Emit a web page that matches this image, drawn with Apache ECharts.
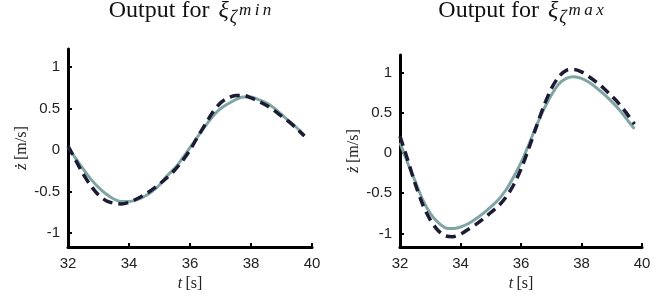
<!DOCTYPE html>
<html>
<head>
<meta charset="utf-8">
<script src="https://cdn.jsdelivr.net/npm/echarts@6/dist/echarts.min.js"></script>
<style>
  html, body { margin: 0; padding: 0; background: #fff; }
  #main { width: 661px; height: 297px; }
</style>
</head>
<body>
<div id="main"></div>
<script>
// time samples [s]
const tVals = [32, 32.25, 32.5, 32.75, 33, 33.25, 33.5, 33.75, 34, 34.25, 34.5, 34.75,
  35, 35.25, 35.5, 35.75, 36, 36.25, 36.5, 36.75, 37, 37.25, 37.5, 37.75,
  38, 38.25, 38.5, 38.75, 39, 39.25, 39.5, 39.75];

// left panel (zeta min)
const minSolid = [0.04, -0.10, -0.23, -0.35, -0.45, -0.53, -0.59, -0.62, -0.62, -0.60, -0.56, -0.50,
  -0.42, -0.31, -0.22, -0.10, 0.03, 0.16, 0.29, 0.41, 0.50, 0.56, 0.61, 0.64,
  0.64, 0.61, 0.57, 0.51, 0.43, 0.35, 0.27, 0.18];
const minDashed = [0.05, -0.12, -0.29, -0.43, -0.54, -0.61, -0.64, -0.65, -0.63, -0.59, -0.54, -0.48,
  -0.41, -0.33, -0.24, -0.13, 0.00, 0.16, 0.31, 0.46, 0.57, 0.63, 0.66, 0.66,
  0.63, 0.59, 0.54, 0.48, 0.41, 0.34, 0.26, 0.17];

// right panel (zeta max)
const maxSolid = [0.13, -0.12, -0.35, -0.58, -0.75, -0.86, -0.93, -0.94, -0.92, -0.88, -0.82, -0.75,
  -0.67, -0.58, -0.46, -0.30, -0.12, 0.10, 0.33, 0.54, 0.72, 0.86, 0.93, 0.95,
  0.93, 0.88, 0.81, 0.73, 0.64, 0.54, 0.42, 0.30];
const maxDashed = [0.21, -0.08, -0.38, -0.64, -0.83, -0.96, -1.03, -1.04, -1.01, -0.95, -0.89, -0.82,
  -0.74, -0.66, -0.55, -0.40, -0.20, 0.05, 0.32, 0.58, 0.80, 0.95, 1.03, 1.04,
  1.01, 0.95, 0.88, 0.80, 0.71, 0.61, 0.49, 0.36];

const yTicks = [-1, -0.5, 0, 0.5, 1];
const xTicks = [32, 34, 36, 38, 40];

const solidColor = '#80a6a3';
const dashColor = '#1b1b36';
const serif = 'Liberation Serif';
const sans = 'Liberation Sans';

function pairs(vals) {
  return tVals.map((t, i) => [t, vals[i]]);
}

function titleOpt(left, sup) {
  // superscript letters spaced a bit like math italic
  const supTxt = sup.split('').join('\u2009');
  return {
    left: left, top: -5, padding: 0, textAlign: 'center',
    text: '{a|Output for }{x|ξ}{s|ζ}{p|' + supTxt + '}',
    textStyle: {
      fontWeight: 'normal',
      rich: {
        a: {fontFamily: serif, fontSize: 24, fontWeight: 'normal', color: '#111'},
        x: {fontFamily: serif, fontSize: 24, fontStyle: 'italic', fontWeight: 'normal', color: '#111', padding: [0, 0, 0, 3]},
        s: {fontFamily: serif, fontSize: 18, fontStyle: 'italic', fontWeight: 'normal', color: '#111', padding: [14, 0, 0, 1]},
        p: {fontFamily: serif, fontSize: 17, fontStyle: 'italic', fontWeight: 'normal', color: '#111', padding: [0, 0, 0, 2]}
      }
    }
  };
}

function xAxisOpt(idx) {
  return {
    type: 'value', gridIndex: idx, min: 32, max: 40, interval: 2,
    name: '{i|t} {n|[s]}', nameLocation: 'middle', nameGap: 27,
    nameTextStyle: {
      rich: {
        i: {fontFamily: serif, fontSize: 16, fontStyle: 'italic', color: '#222'},
        n: {fontFamily: serif, fontSize: 16, color: '#222'}
      }
    },
    axisLine: {show: true, onZero: false, lineStyle: {color: '#000', width: 3}},
    axisTick: {show: true, inside: true, length: 4, lineStyle: {color: '#000', width: 2}},
    axisLabel: {fontFamily: sans, fontSize: 15, color: '#222', margin: 9,
      customValues: xTicks},
    splitLine: {show: false}
  };
}

function yAxisOpt(idx) {
  return {
    type: 'value', gridIndex: idx, min: -1.17, max: 1.22,
    name: '{i|ż} {n|[m/s]}', nameLocation: 'middle', nameGap: 38,
    nameTextStyle: {
      rich: {
        i: {fontFamily: serif, fontSize: 17, fontStyle: 'italic', color: '#222'},
        n: {fontFamily: serif, fontSize: 16, color: '#222'}
      }
    },
    axisLine: {show: true, onZero: false, lineStyle: {color: '#000', width: 3}},
    axisTick: {show: true, inside: true, length: 4, lineStyle: {color: '#000', width: 2},
      customValues: yTicks},
    axisLabel: {fontFamily: sans, fontSize: 15, color: '#222', margin: 8,
      customValues: yTicks},
    splitLine: {show: false}
  };
}

function lineSeries(idx, vals, dashed) {
  return {
    type: 'line', xAxisIndex: idx, yAxisIndex: idx,
    data: pairs(vals), smooth: 0.3, showSymbol: false, symbol: 'none',
    z: dashed ? 3 : 2,
    lineStyle: dashed
      ? {color: dashColor, width: 3.5, type: [10, 6]}
      : {color: solidColor, width: 3}
  };
}

const chart = echarts.init(document.getElementById('main'));
chart.setOption({
  animation: false,
  backgroundColor: '#fff',
  title: [titleOpt(190, 'min'), titleOpt(521, 'max')],
  grid: [
    {left: 68, right: 349, top: 49, bottom: 48},
    {left: 400, right: 19, top: 55, bottom: 48}
  ],
  xAxis: [xAxisOpt(0), xAxisOpt(1)],
  yAxis: [yAxisOpt(0), yAxisOpt(1)],
  series: [
    lineSeries(0, minSolid, false),
    lineSeries(0, minDashed, true),
    lineSeries(1, maxSolid, false),
    lineSeries(1, maxDashed, true)
  ]
});
</script>
</body>
</html>
